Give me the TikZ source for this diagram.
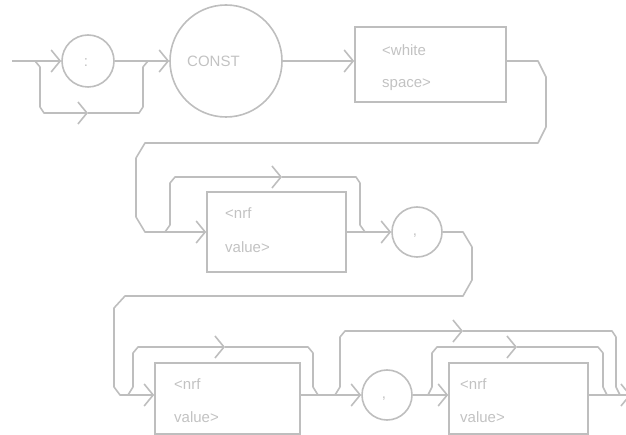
\documentclass[tikz,border=0pt]{standalone}
\usepackage{fontspec}
\setmainfont{Liberation Sans}
\usetikzlibrary{arrows.meta}
\definecolor{ln}{RGB}{190,190,190}
\definecolor{tx}{RGB}{194,194,194}
\begin{document}
\begin{tikzpicture}[x=1pt,y=-1pt,
  line/.style={draw=ln,line width=1.6pt,line join=round},
  >={Straight Barb[length=9pt,width=22pt]},
  circ/.style={circle,draw=ln,line width=1.6pt,inner sep=0pt},
  boxn/.style={rectangle,draw=ln,line width=1.6pt,inner sep=0pt},
  txt/.style={text=tx,font=\fontsize{15}{17}\selectfont,inner sep=0pt,anchor=base west}]
\useasboundingbox (0,0) rectangle (626,435);
% ---- nodes
\node[circ,minimum size=52pt] (colon) at (88,61) {};
\node[txt,anchor=center] (colont) at (86,63) {:};
\node[circ,minimum size=112pt] (const) at (226,61) {};
\node[txt] (constt) at (187,67) {CONST};
\node[boxn,minimum width=151pt,minimum height=75pt] (ws) at (430.5,64.5) {};
\node[txt] (ws1) at (382,56) {<white};
\node[txt] (ws2) at (382,88) {space>};
\node[boxn,minimum width=139pt,minimum height=80pt] (nrfa) at (276.5,232) {};
\node[txt] (nrfa1) at (225,219) {<nrf};
\node[txt] (nrfa2) at (225,253) {value>};
\node[circ,minimum size=50pt] (comma1) at (417,232) {};
\node[txt,anchor=center] (comma1t) at (415,236) {,};
\node[boxn,minimum width=145pt,minimum height=71pt] (nrfb) at (227.5,398.5) {};
\node[txt] (nrfb1) at (174,389) {<nrf};
\node[txt] (nrfb2) at (174,422) {value>};
\node[circ,minimum size=50pt] (comma2) at (387,395) {};
\node[txt,anchor=center] (comma2t) at (384,399) {,};
\node[boxn,minimum width=139pt,minimum height=71pt] (nrfc) at (518.5,398.5) {};
\node[txt] (nrfc1) at (460,389) {<nrf};
\node[txt] (nrfc2) at (460,422) {value>};
% ---- coordinates
\coordinate (in) at (12,61);
\coordinate (r3) at (0,395);
\coordinate (out) at (631,395);
\coordinate (b1s) at (35,61);  \coordinate (b1a) at (88,113);  \coordinate (b1e) at (148,61);
\coordinate (b2s) at (165,232); \coordinate (b2a) at (282,177); \coordinate (b2e) at (365,232);
\coordinate (b3s) at (128,395); \coordinate (b3a) at (225,347); \coordinate (b3e) at (318,395);
\coordinate (b4s) at (335,395); \coordinate (b4a) at (463,331); \coordinate (b4e) at (620,395);
\coordinate (b5s) at (428,395); \coordinate (b5a) at (517,347); \coordinate (b5e) at (607,395);
% ---- row 1
\draw[line,->] (in) -- (colon.west);
\draw[line,->] (colon.east) -- (const.west);
\draw[line,->] (const.east) -- (ws.west |- const.east);
\draw[line,->] (b1s) -- (40,67) -- (40,107) -- (44,113) -- (b1a);
\draw[line] (b1a) -- (139,113) -- (143,107) -- (143,67) -- (b1e);
% ---- row 1 -> row 2
\draw[line,->] (ws.east |- const.east) -- (538,61) -- (546,77) -- (546,127) -- (538,143)
  -- (145,143) -- (136,158) -- (136,217) -- (145,232) -- (nrfa.west);
% ---- row 2
\draw[line,->] (b2s) -- (170,225) -- (170,183) -- (175,177) -- (b2a);
\draw[line] (b2a) -- (356,177) -- (360,183) -- (360,225) -- (b2e);
\draw[line,->] (nrfa.east) -- (comma1.west);
% ---- row 2 -> row 3
\draw[line,->] (comma1.east) -- (463,232) -- (472,247) -- (472,280) -- (463,296)
  -- (125,296) -- (114,308) -- (114,387) -- (120,395) -- (nrfb.west |- r3);
% ---- row 3
\draw[line,->] (b3s) -- (133,387) -- (133,353) -- (138,347) -- (b3a);
\draw[line] (b3a) -- (308,347) -- (313,353) -- (313,387) -- (b3e);
\draw[line,->] (nrfb.east |- r3) -- (comma2.west);
\draw[line,->] (b4s) -- (340,387) -- (340,337) -- (345,331) -- (b4a);
\draw[line] (b4a) -- (612,331) -- (616,337) -- (616,387) -- (b4e);
\draw[line,->] (comma2.east) -- (nrfc.west |- r3);
\draw[line,->] (b5s) -- (432,387) -- (432,353) -- (437,347) -- (b5a);
\draw[line] (b5a) -- (598,347) -- (603,353) -- (603,387) -- (b5e);
\draw[line,->] (nrfc.east |- r3) -- (out);
\end{tikzpicture}
\end{document}
